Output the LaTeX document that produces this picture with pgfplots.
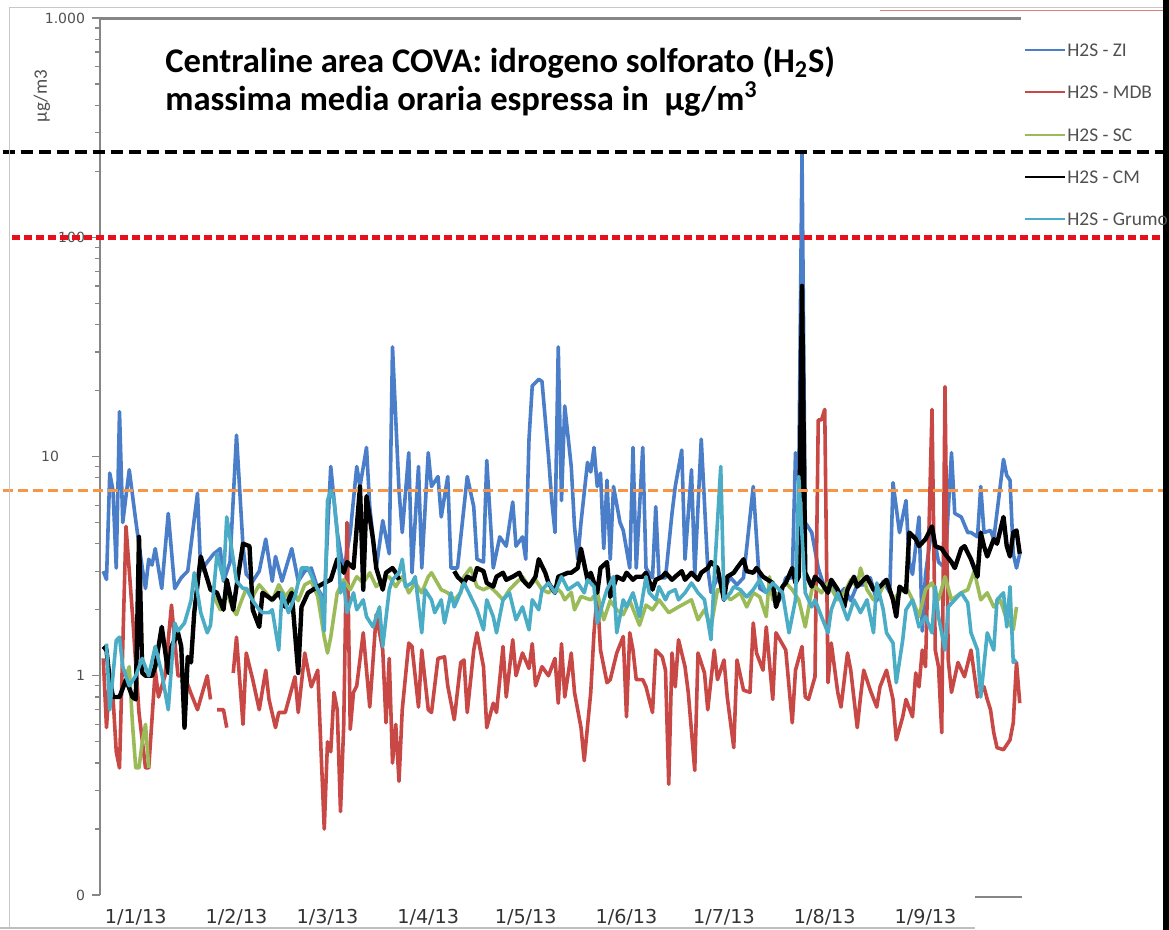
\documentclass[border=0pt]{standalone}
\usepackage{pgfplots}
\pgfplotsset{compat=1.18}
\usepackage{fontspec}
\setmainfont{Carlito}
\newfontfamily\dejavu{DejaVu Sans}
\definecolor{ziblue}{RGB}{74,126,200}
\definecolor{mdbred}{RGB}{200,72,70}
\definecolor{scgreen}{RGB}{155,187,89}
\definecolor{grumo}{RGB}{75,172,198}
\definecolor{limred}{RGB}{232,16,26}
\definecolor{limorange}{RGB}{247,150,70}
\definecolor{axgray}{RGB}{134,134,134}
\definecolor{txtgray}{RGB}{80,80,80}
\begin{document}
\begin{tikzpicture}
\begin{axis}[
  at={(50bp,17.5bp)}, anchor=south west,
  scale only axis, width=461.5bp, height=438.5bp,
  xmin=-11, xmax=273, ymode=log, ymin=0.1, ymax=1000,
  axis y line*=left, axis x line*=bottom,
  x axis line style={draw=none},
  y axis line style={draw=axgray, line width=1bp},
  xtick style={draw=none},
  ytick style={draw=axgray, line width=0.6bp},
  tick align=outside,
  major tick length=4bp, minor tick length=2.5bp,
  xtick={0,31,59,90,120,151,181,212,243},
  xticklabels={1/1/13,1/2/13,1/3/13,1/4/13,1/5/13,1/6/13,1/7/13,1/8/13,1/9/13},
  xticklabel style={font=\dejavu\fontsize{9.6bp}{11bp}\selectfont, text=black!80, yshift=0.5bp},
  ytick={0.1,1,10,100,1000},
  yticklabels={0,1,{10\hspace*{13bp}},100,{1.000}},
  minor ytick={0.2,0.3,0.4,0.5,0.6,0.7,0.8,0.9,2,3,4,5,6,7,8,9,20,30,40,50,60,70,80,90,200,300,400,500,600,700,800,900},
  yticklabel style={font=\dejavu\fontsize{7bp}{8bp}\selectfont, text=txtgray},
  unbounded coords=jump,
  clip=false,
  every axis plot/.append style={line join=round},
]
% H2S - ZI
\addplot[ziblue, line width=1.8bp] coordinates {
(-10,3.0)(-9,2.75)(-8,8.4)(-7,7.0)(-6,3.1)(-5,16)(-4,5.0)(-2,8.7)(0,5.1)(2,3.1)(3,2.5)(4,3.4)(5,3.2)(6,3.8)(8,2.5)(10,5.5)(12,2.5)(14,2.8)(16,3.0)(19,6.8)(20,3.0)(22,3.3)(24,3.6)(26,3.8)(27,2.7)(29,3.3)(31,12.5)(33,3.9)(34,2.9)(36,2.7)(38,3.0)(40,4.2)(42,2.7)(43,3.5)(45,2.7)(48,3.8)(50,2.7)(52,3.0)(54,3.1)(56,2.5)(58,2.2)
(60,9.0)(62,4.5)(64,3.0)(66,4.5)(68,9.0)(69,7.3)(71,11)(72,5.9)(74,3.1)(76,5.1)(78,3.6)(79,31.6)(81,7.0)(82,4.5)(84,10.4)(85,2.95)(87,9.0)(88,3.1)(90,10.4)(91,7.3)(93,8.1)(94,5.3)(96,8.1)(97,3.1)(99,3.1)(102,8.1)(104,5.9)(105,3.4)(107,3.3)(108,9.6)(110,3.1)(112,4.3)(114,3.9)(116,6.2)(117,3.9)(119,4.3)(120,3.4)
(121,12)(122,21)(124,22.5)(125,22)(127,10)(128,6.3)(129,4.5)(130,31.6)(131,6.3)(132,17)(134,9.0)(135,4.8)(136,3.4)(137,5.0)(139,9.4)(140,8.5)(141,11)(142,7.3)(143,8.4)(144,3.8)(145,7.8)(146,3.4)(147,7.3)(149,5.0)(150,4.6)(152,3.1)(153,11)(154,3.1)(156,11)(157,3.1)(159,2.8)(160,5.9)(161,2.8)(163,2.8)(165,5.5)(166,7.3)(168,10.7)(169,3.4)(171,8.7)(172,2.9)(174,12)(176,3.1)(177,2.4)(179,2.8)
(181,2.5)(183,2.8)(185,2.6)(187,2.8)(190,7.3)(192,2.5)(194,2.4)(196,2.5)(198,2.2)(200,2.8)(202,2.8)(203,10.4)(204,7.8)(205,245)(206,5.0)(208,4.5)(210,3.1)(212,2.5)(214,2.6)(216,2.3)(218,2.5)(220,2.2)(222,2.6)(224,2.6)(226,2.8)(228,2.2)(230,2.7)(232,2.4)(233,7.6)(235,4.5)(237,6.3)(238,3.3)(239,2.9)(241,5.3)(242,1.6)(243,2.9)(245,4.8)(247,3.3)(249,3.1)(251,10.4)(252,5.5)(254,5.3)(256,4.5)(257,4.5)(259,4.3)(260,7.3)(261,4.5)(263,4.6)(264,4.2)(267,9.7)(268,8.2)(269,7.8)(270,3.6)(271,3.1)(272,3.6)
};
% H2S - MDB
\addplot[mdbred, line width=1.8bp] coordinates {
(-10,1.2)(-9,0.58)(-8,1.0)(-7,0.8)(-6,0.45)(-5,0.38)(-3,4.8)(-1,1.9)(1,0.68)(3,0.38)(4,0.38)(6,1.06)(7,0.8)(9,1.0)(11,2.1)(13,1.0)(15,1.0)(17,0.83)(19,0.7)(22,1.0)(23,0.78)(24,nan)(25,0.7)(27,0.7)(28,0.58)(29,nan)(30,1.03)(31,1.5)(33,0.6)(34,1.27)(36,0.96)(38,0.7)(40,1.06)(41,0.78)(43,0.58)(44,0.68)(46,0.68)(49,0.99)(50,0.68)(52,1.27)(54,0.89)(56,1.06)(58,0.2)(59,0.5)(60,0.45)(61,0.84)(62,0.7)(63,0.24)(64,0.6)(65,5.0)(66,0.57)(67,0.84)(68,0.9)(70,1.57)(72,0.72)(74,1.9)(76,1.31)(77,0.61)(78,1.2)(79,0.4)(80,0.6)(81,0.33)(82,0.7)(84,1.41)(85,1.36)(87,0.72)(88,1.31)(90,0.7)(91,0.68)(93,1.2)(95,1.22)(96,0.9)(98,0.63)(100,1.15)(101,1.18)(102,0.68)(104,1.31)(105,1.57)(107,1.1)(108,0.58)(110,0.75)(111,0.68)(113,1.36)(114,0.8)(116,1.46)(117,1.0)(119,1.27)
(121,1.08)(122,1.4)(123,0.9)(125,1.1)(127,1.0)(129,1.2)(130,0.75)(131,1.4)(132,0.8)(134,1.27)(135,0.84)(137,0.58)(138,0.41)(140,0.84)(141,1.57)(142,2.39)(143,1.31)(145,0.93)(146,0.96)(148,1.27)(150,1.51)(151,0.65)(152,1.57)(153,1.31)(154,0.96)(156,0.96)(157,0.89)(159,0.68)(160,1.31)(162,1.22)(163,1.06)(164,0.32)(165,1.27)(166,0.89)(167,1.46)(169,1.1)(170,0.84)(172,0.37)(173,1.27)(175,1.03)(176,0.7)(178,1.31)(179,0.96)(181,1.18)(182,0.8)(184,0.47)(185,1.18)(187,0.86)(189,0.84)(190,1.74)(191,1.27)(193,1.06)(194,1.67)(196,0.78)(197,1.57)(200,1.31)(202,0.61)(203,1.06)(205,1.36)(206,0.8)(207,0.78)(209,0.99)(210,14.7)(211,14.7)(212,16.4)(213,0.93)(214,1.41)(216,0.84)(217,0.72)(219,1.27)(220,1.06)(222,0.58)(223,0.8)(224,1.06)(226,0.86)(228,0.72)(229,0.89)(231,1.06)(233,0.78)(234,0.51)(236,0.65)(237,0.78)(239,0.65)(240,1.03)(241,0.89)(242,1.31)(243,1.1)(245,16.4)(246,1.31)(247,1.1)(248,0.55)(249,20.8)(250,1.18)(251,0.84)(253,1.15)(255,0.99)(257,1.31)(259,0.8)(261,0.89)(262,0.78)(263,0.7)(264,0.55)(265,0.47)(267,0.46)(269,0.51)(270,0.61)(271,1.15)(272,0.75)
};
% H2S - SC
\addplot[scgreen, line width=1.8bp] coordinates {
(-3,1.0)(-2,1.1)(-1,0.6)(0,0.38)(1,0.38)(2,0.5)(3,0.6)(4,0.38)(5,nan)(14,0.96)(15,0.9)(16,1.0)(17,nan)
(24,2.3)(26,2.0)(28,2.4)(30,2.0)(31,1.9)(32,2.1)(34,2.5)(36,2.3)(38,2.6)(40,2.4)(42,2.2)(44,2.6)(46,2.3)(48,2.5)(50,2.2)(52,2.6)(54,2.7)(56,2.3)(58,1.5)(59,1.27)(60,1.5)(62,2.39)(64,2.74)(66,2.47)(68,2.83)(70,2.65)(72,2.95)(74,2.55)(76,2.74)(78,2.83)(80,2.55)(82,2.83)(84,2.39)(86,2.65)(88,2.39)(90,2.83)(91,2.95)(94,2.47)(96,2.39)(98,2.22)(100,2.39)(101,2.83)(103,3.1)(105,2.55)(107,2.47)(109,2.55)(111,2.39)(113,2.22)(115,2.47)(117,2.65)(119,2.83)(121,2.55)(123,2.74)(125,2.47)(127,2.39)(129,2.55)(131,2.39)(132,2.22)(134,2.4)(135,2.0)(137,2.3)(140,2.22)(142,2.4)(144,1.8)(146,2.2)(148,2.0)(150,1.9)(152,2.2)(155,1.7)(157,2.1)(159,2.0)(161,2.22)(164,1.94)(167,2.06)(171,2.22)(173,1.8)(175,2.0)(177,1.67)(179,2.47)(181,2.39)(183,2.22)(186,2.39)(188,2.06)(190,2.39)(192,2.29)(194,1.86)(195,2.83)(196,2.22)(198,2.39)(200,2.65)(202,2.47)(204,2.22)(206,1.67)(208,2.47)(209,2.55)(211,2.39)(213,2.65)(216,2.22)(218,2.39)(220,2.74)(222,2.55)(223,3.1)(225,2.47)(227,2.22)(229,2.39)(231,2.74)(233,2.22)(235,2.39)(237,2.55)(239,2.22)(241,1.86)(243,2.47)(245,2.65)(247,2.22)(249,2.83)(251,2.22)(254,2.39)(256,2.47)(258,3.0)(260,2.22)(262,2.39)(264,2.06)(266,2.22)(268,1.8)(270,1.62)(271,2.06)
};
% H2S - CM
\addplot[black, line width=2.2bp] coordinates {
(-10,1.36)(-9,1.31)(-8,0.96)(-7,0.8)(-5,0.8)(-3,0.96)(-1,0.8)(0,0.78)(1,4.3)(2,1.03)(3,1.0)(5,1.0)(6,1.1)(8,1.67)(10,1.03)(11,1.36)(13,1.57)(14,1.36)(15,0.58)(16,1.22)(17,1.15)(18,1.94)(20,3.5)(21,3.1)(23,2.47)(25,2.39)(27,2.0)(28,2.74)(30,2.0)(31,2.55)(33,4.0)(35,3.9)(36,2.0)(38,1.67)(39,2.39)(42,2.22)(44,2.39)(46,2.06)(48,2.39)(50,1.03)(51,2.06)(53,2.39)(56,2.55)(58,2.65)(60,2.74)(62,3.4)(64,2.95)(65,3.3)(67,3.1)(69,7.3)(70,2.47)(71,6.6)(73,4.2)(74,3.1)(76,2.47)(77,2.95)(79,3.1)(80,2.95)(81,2.74)(82,nan)
(98,3.0)(99,2.83)(101,2.65)(102,2.83)(104,2.74)(105,3.1)(107,3.0)(108,2.65)(110,2.55)(111,2.83)(113,2.95)(114,2.74)(116,2.83)(118,2.95)(119,2.74)(121,2.55)(123,2.83)(124,3.4)(126,2.95)(127,2.65)(129,2.39)(130,2.83)(133,2.95)(134,2.95)(136,3.1)(137,3.8)(139,2.74)(140,2.95)(142,2.39)(143,3.1)(145,3.3)(146,2.29)(148,2.83)(150,2.74)(151,2.95)(153,2.74)(154,2.83)(156,2.83)(157,2.95)(159,2.47)(160,2.74)(162,2.83)(163,2.95)(165,2.74)(166,2.83)(168,3.0)(169,2.74)(171,2.95)(173,2.74)(174,2.95)(176,3.1)(177,3.3)(179,3.1)(181,2.22)(182,2.83)(184,2.95)(185,3.1)(187,3.4)(188,3.0)(190,2.95)(191,3.1)(193,2.83)(196,2.65)(197,2.06)(199,2.55)(200,2.65)(202,3.1)(203,2.65)(204,2.83)(205,60)(206,2.95)(208,2.55)(209,2.83)(211,2.65)(213,2.39)(214,2.74)(216,2.47)(218,2.06)(219,2.47)(221,2.83)(222,2.55)(224,2.74)(225,2.83)(227,2.47)(229,2.55)(231,2.74)(233,2.22)(234,1.86)(235,2.55)(237,2.4)(238,4.5)(240,4.2)(241,3.9)(243,4.2)(245,4.8)(246,3.9)(248,3.8)(249,3.6)(251,3.3)(252,3.1)(254,3.8)(255,3.9)(257,3.4)(259,2.83)(260,4.5)(261,3.9)(262,3.5)(264,4.2)(265,4.0)(267,5.3)(268,3.9)(269,3.5)(270,4.5)(271,4.6)(272,3.6)
};
% H2S - Grumo
\addplot[grumo, line width=1.8bp] coordinates {
(-9,1.4)(-8,0.7)(-6,1.45)(-5,1.5)(-4,1.1)(-2,0.9)(0,1.0)(2,1.2)(4,1.0)(6,1.36)(8,1.03)(10,0.7)(12,1.74)(13,1.6)(15,1.74)(17,2.2)(18,2.95)(20,1.94)(22,1.57)(23,1.7)(25,3.6)(27,2.74)(28,5.3)(30,3.4)(31,2.7)(33,2.5)(34,2.5)(36,2.2)(38,2.0)(39,1.94)(41,1.94)(42,2.0)(44,1.31)(45,2.39)(47,1.94)(49,2.3)(51,3.1)(53,3.1)(55,2.65)(57,2.29)(58,1.6)(59,6.3)(60,7.0)(61,6.3)(62,4.5)(63,2.39)(64,2.65)(65,1.94)(67,2.39)(68,2.0)(70,2.22)(71,1.86)(73,1.67)(75,2.06)(76,1.36)(78,2.47)(79,2.74)(81,2.95)(82,3.4)(83,2.55)(85,2.65)(86,2.83)(88,1.57)(89,2.47)(91,2.22)(92,1.94)(94,2.22)(95,1.74)(97,2.39)(98,2.06)(99,2.22)(101,2.65)(102,2.47)(104,2.15)(105,2.0)(107,1.62)(108,2.22)(110,1.86)(111,1.57)(113,2.22)(115,2.39)(117,1.8)(119,2.06)
(121,1.62)(122,2.22)(124,2.0)(125,2.47)(127,2.65)(129,2.39)(131,2.83)(133,2.47)(136,2.65)(138,2.39)(139,2.74)(141,2.55)(142,1.74)(144,2.22)(145,2.47)(147,2.83)(148,1.57)(150,2.22)(151,2.06)(153,2.39)(155,1.86)(157,2.83)(158,2.39)(160,2.22)(161,2.55)(163,2.22)(164,2.39)(166,2.47)(167,2.22)(169,2.39)(171,2.65)(173,2.39)(175,2.22)(177,1.46)(178,2.83)(180,9.0)(181,2.22)(183,2.39)(184,2.55)(186,2.47)(188,2.29)(190,2.47)(192,2.74)(194,2.39)(196,2.65)(199,2.39)(201,1.57)(203,2.22)(204,8.1)(206,2.39)(208,2.06)(209,2.22)(211,1.86)(213,1.57)(214,2.0)(216,2.39)(219,1.8)(221,2.22)(223,1.94)(225,2.22)(227,1.57)(228,2.65)(230,2.0)(231,1.57)(233,1.41)(234,0.93)(236,1.46)(237,2.0)(239,2.22)(241,1.67)(243,1.86)(245,1.57)(246,2.55)(247,1.86)(249,1.31)(250,2.06)(252,2.22)(254,2.39)(256,2.15)(257,1.57)(259,1.31)(260,0.8)(262,1.57)(264,1.31)(265,2.22)(267,2.39)(268,1.67)(269,2.55)(270,1.15)(271,1.18)
};
% reference limits
\addplot[black, line width=2bp, dash pattern=on 6bp off 3bp] coordinates {(-41,245)(320,245)};
\addplot[limred, line width=2.4bp, dash pattern=on 4bp off 2bp] coordinates {(-38,100)(320,100)};
\addplot[limorange, line width=1.5bp, dash pattern=on 5bp off 2.5bp] coordinates {(-41,7)(320,7)};
\end{axis}
\begin{scope}[x=0.5bp,y=0.5bp]
% frame remnants
\draw[black!22, line width=0.5bp] (10,2) -- (10,923) -- (1163,923);
\draw[black!25, line width=0.6bp] (0,2) -- (975,2);
\draw[mdbred!70, line width=0.5bp] (880,920) -- (1163,920);
\fill[black] (1163,0) rectangle (1170,930);
% top axis line and short bottom segment
\draw[axgray, line width=1.5bp] (100,912) -- (1021,912);
\draw[axgray, line width=0.8bp] (975,33) -- (1022,33);
% y label
\node[rotate=90, inner sep=0, text=txtgray, font=\fontsize{9.5bp}{10bp}\selectfont] at (42,834) {µg/m3};
% title
\node[anchor=base west, inner sep=0, font=\bfseries\fontsize{17.3bp}{20bp}\selectfont] at (165,858) {Centraline area COVA: idrogeno solforato (H\textsubscript{2}S)};
\node[anchor=base west, inner sep=0, font=\bfseries\fontsize{17.3bp}{20bp}\selectfont] at (165,820) {massima media oraria espressa in\ \ µg/m\textsuperscript{3}};
% legend
\draw[ziblue, line width=0.6bp] (1025,880) -- (1065,880);
\draw[mdbred, line width=1.2bp] (1025,838) -- (1065,838);
\draw[scgreen, line width=1.2bp] (1025,795) -- (1065,795);
\draw[black, line width=1.2bp] (1025,753) -- (1065,753);
\draw[grumo, line width=1.2bp] (1025,711) -- (1065,711);
\begin{scope}[every node/.style={anchor=west, inner sep=0, text=txtgray, font=\fontsize{9.7bp}{11bp}\selectfont}]
\node at (1067,880) {H2S - ZI};
\node at (1067,838) {H2S - MDB};
\node at (1067,795) {H2S - SC};
\node at (1067,753) {H2S - CM};
\node at (1067,711) {H2S - Grumo};
\end{scope}
\end{scope}
\pgfresetboundingbox
\useasboundingbox (0,0) rectangle (584.5bp,465bp);
\end{tikzpicture}
\end{document}
